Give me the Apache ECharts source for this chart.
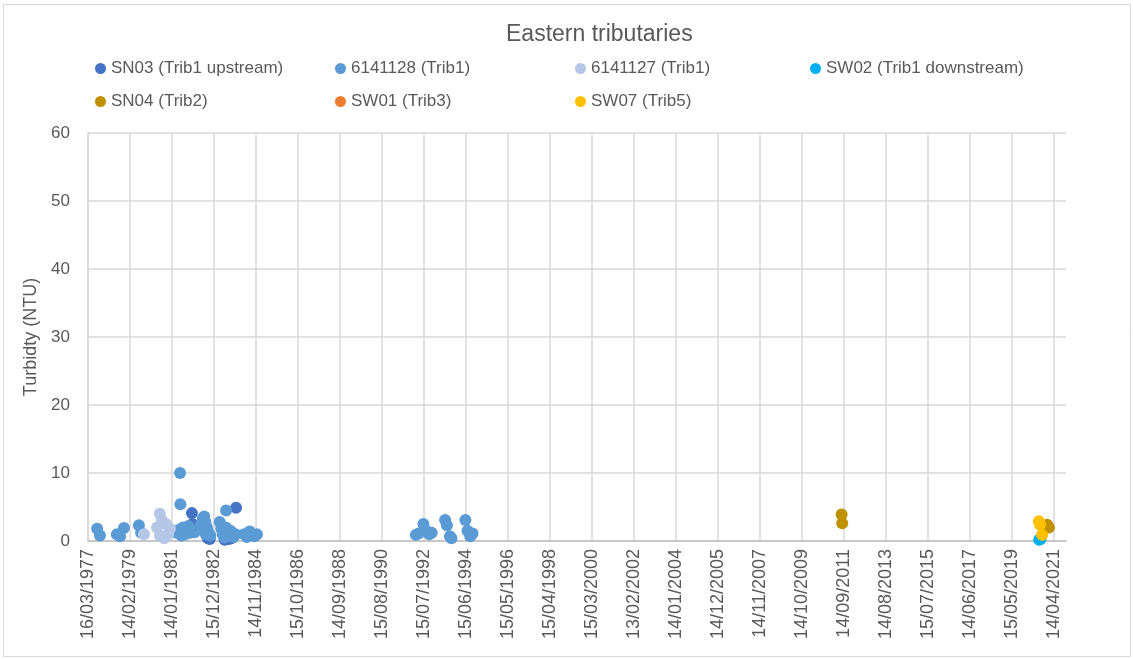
<!DOCTYPE html>
<html><head><meta charset="utf-8">
<script src="https://cdn.jsdelivr.net/npm/echarts@6/dist/echarts.min.js"></script>
<style>html,body{margin:0;padding:0;background:#fff}#c{width:1133px;height:659px}</style>
</head><body><div id="c"></div>
<script>
const chartTitle = 'Eastern tributaries';
const yAxisTitle = 'Turbidty (NTU)';
const seriesNames = ['SN03 (Trib1 upstream)', '6141128 (Trib1)', '6141127 (Trib1)', 'SW02 (Trib1 downstream)', 'SN04 (Trib2)', 'SW01 (Trib3)', 'SW07 (Trib5)'];
const xTickLabels = ['16/03/1977','14/02/1979','14/01/1981','15/12/1982','14/11/1984','15/10/1986','14/09/1988','15/08/1990','15/07/1992','15/06/1994','15/05/1996','15/04/1998','15/03/2000','13/02/2002','14/01/2004','14/12/2005','14/11/2007','14/10/2009','14/09/2011','14/08/2013','15/07/2015','14/06/2017','15/05/2019','14/04/2021'];
const xStartDate = '1977-03-16';
const xEndDate = '2021-10-31';
const xTickDays = 700;

const sn03 = [['1981-12-12',4.1],['1981-12-20',2.5],['1982-09-05',0.4],['1982-10-05',0.3],['1983-06-10',0.2],['1983-08-20',0.3],['1983-10-01',0.4],['1983-12-18',4.9]];
const s6141128 = [['1977-08-15',1.8],['1977-10-01',0.8],['1978-07-10',1.0],['1978-09-01',0.7],['1978-11-05',1.9],['1979-07-12',2.3],['1979-08-18',1.2],
['1981-03-25',1.2],['1981-05-01',1.6],['1981-05-28',10.0],['1981-06-02',5.4],['1981-06-20',0.8],['1981-07-15',2.0],['1981-08-20',1.0],['1981-09-15',1.6],['1981-10-15',2.2],['1981-11-15',1.2],['1981-12-28',1.6],['1982-01-25',1.3],
['1982-05-15',2.5],['1982-06-10',3.3],['1982-07-05',3.6],['1982-07-25',2.8],['1982-06-25',1.5],['1982-08-01',1.0],['1982-08-20',2.0],['1982-09-15',1.2],['1982-10-15',0.8],
['1983-03-20',2.8],['1983-07-05',4.5],['1983-04-15',1.8],['1983-05-10',1.0],['1983-06-05',0.5],['1983-07-01',2.0],['1983-07-25',1.2],['1983-08-20',0.7],['1983-09-15',1.5],['1983-10-10',0.9],['1983-11-05',0.6],['1983-12-10',1.0],
['1984-05-01',1.0],['1984-06-15',0.6],['1984-08-01',1.4],['1984-09-15',0.9],['1984-10-20',0.7],['1984-11-30',1.0],
['1992-03-01',0.9],['1992-04-15',1.1],['1992-07-05',2.5],['1992-08-10',1.6],['1992-10-10',1.0],['1992-11-20',1.2],
['1993-07-01',3.1],['1993-08-01',2.3],['1993-09-20',0.7],['1993-10-15',0.4],
['1994-06-05',3.1],['1994-07-10',1.5],['1994-08-25',0.7],['1994-10-01',1.1]];
const s6141127 = [['1979-10-05',1.0],['1980-05-10',2.0],['1980-06-25',4.0],['1980-06-28',0.8],['1980-07-30',3.0],['1980-09-05',0.4],['1980-10-08',2.5],['1980-11-10',1.0],['1980-12-12',1.8]];
const sw02 = [['2020-08-10',0.2],['2020-09-01',0.3]];
const sn04 = [['2011-08-05',3.9],['2011-08-15',2.6],['2020-12-20',2.4],['2021-01-20',2.0]];
const sw01 = [];
const sw07 = [['2020-08-05',2.9],['2020-08-25',2.4],['2020-09-28',0.9]];

const seriesData = [sn03, s6141128, s6141127, sw02, sn04, sw01, sw07];
const colors = ['#4472C4', '#5B9BD5', '#B4C7E7', '#00B0F0', '#BF9000', '#ED7D31', '#FFC000'];

function dayNum(s) { const p = s.split('-').map(Number); return Date.UTC(p[0], p[1]-1, p[2]) / 86400000; }
const d0 = dayNum(xStartDate);
const toX = s => dayNum(s) - d0;

const FONT = 'Liberation Sans';
const TXT = '#595959';

const legendPos = [[95,60],[335,60],[575,60],[810,60],[95,93],[335,93],[575,93]];
const legends = seriesNames.map((n, i) => ({
  data: [n], left: legendPos[i][0], top: legendPos[i][1], padding: 0,
  icon: 'circle', itemWidth: 11, itemHeight: 11, selectedMode: false,
  textStyle: { fontFamily: FONT, fontSize: 17, color: TXT }
}));

const chart = echarts.init(document.getElementById('c'));
chart.setOption({
  animation: false,
  backgroundColor: '#fff',
  title: { text: chartTitle, left: 506, top: 23, padding: 0, textStyle: { fontFamily: FONT, fontSize: 23, fontWeight: 'normal', color: TXT } },
  legend: legends,
  grid: { left: 88, right: 67, top: 133, bottom: 118, outerBoundsMode: 'none', containLabel: false },
  xAxis: {
    type: 'value', min: 0, max: toX(xEndDate), interval: xTickDays,
    axisLine: { show: true, lineStyle: { color: '#bfbfbf', width: 1.5 } },
    axisTick: { show: false },
    splitLine: { show: true, showMaxLine: false, lineStyle: { color: '#d9d9d9', width: 1.5 } },
    axisLabel: {
      rotate: 90, margin: 8, fontFamily: FONT, fontSize: 18, color: TXT, showMaxLabel: false,
      formatter: v => { const k = Math.round(v / xTickDays); return (Math.abs(v - k * xTickDays) < 1e-6 && xTickLabels[k]) ? xTickLabels[k] : ''; }
    }
  },
  yAxis: {
    type: 'value', min: 0, max: 60, interval: 10,
    name: yAxisTitle, nameLocation: 'middle', nameRotate: 90, nameGap: 45,
    nameTextStyle: { fontFamily: FONT, fontSize: 18, color: TXT },
    axisLine: { show: true, lineStyle: { color: '#d9d9d9', width: 1.5 } },
    axisTick: { show: false },
    splitLine: { show: true, lineStyle: { color: '#d9d9d9', width: 1.5 } },
    axisLabel: { margin: 18, fontFamily: FONT, fontSize: 17, color: TXT }
  },
  graphic: [{ type: 'rect', shape: { x: 3.5, y: 4.5, width: 1127, height: 652 }, style: { fill: 'none', stroke: '#d9d9d9', lineWidth: 1 }, silent: true }],
  series: seriesNames.map((n, i) => ({
    name: n, type: 'scatter', symbol: 'circle', symbolSize: 12,
    itemStyle: { color: colors[i], opacity: 1 },
    data: seriesData[i].map(d => [toX(d[0]), d[1]])
  }))
});
</script></body></html>
